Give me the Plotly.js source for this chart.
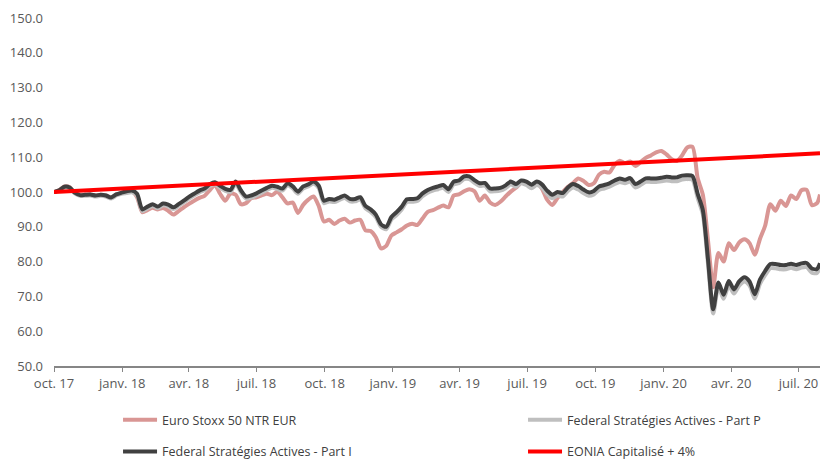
<!DOCTYPE html>
<html>
<head>
<meta charset="utf-8">
<script src="https://cdn.plot.ly/plotly-3.0.1.min.js"></script>
<style>
html,body{margin:0;padding:0;background:#fff;overflow:hidden;}
#chart{width:820px;height:459px;}
</style>
</head>
<body>
<div id="chart"></div>
<script>
const dates = [
'2017-10-01','2017-10-08','2017-10-15','2017-10-22','2017-10-29','2017-11-05','2017-11-12','2017-11-19','2017-11-26','2017-12-03','2017-12-10','2017-12-17','2017-12-24','2017-12-31',
'2018-01-07','2018-01-14','2018-01-21','2018-01-28','2018-02-04','2018-02-11','2018-02-18','2018-02-25','2018-03-04','2018-03-11','2018-03-18','2018-03-25','2018-04-01','2018-04-08','2018-04-15','2018-04-22','2018-04-29','2018-05-06','2018-05-13','2018-05-20','2018-05-27','2018-06-03','2018-06-10','2018-06-17','2018-06-24','2018-07-01','2018-07-08','2018-07-15','2018-07-22','2018-07-29','2018-08-05','2018-08-12','2018-08-19','2018-08-26','2018-09-02','2018-09-09','2018-09-16','2018-09-23','2018-09-30','2018-10-07','2018-10-14','2018-10-21','2018-10-28','2018-11-04','2018-11-11','2018-11-18','2018-11-25','2018-12-02','2018-12-09','2018-12-16','2018-12-23','2018-12-30',
'2019-01-06','2019-01-13','2019-01-20','2019-01-27','2019-02-03','2019-02-10','2019-02-17','2019-02-24','2019-03-03','2019-03-10','2019-03-17','2019-03-24','2019-03-31','2019-04-07','2019-04-14','2019-04-21','2019-04-28','2019-05-05','2019-05-12','2019-05-19','2019-05-26','2019-06-02','2019-06-09','2019-06-16','2019-06-23','2019-06-30','2019-07-07','2019-07-14','2019-07-21','2019-07-28','2019-08-04','2019-08-11','2019-08-18','2019-08-25','2019-09-01','2019-09-08','2019-09-15','2019-09-22','2019-09-29','2019-10-06','2019-10-13','2019-10-20','2019-10-27','2019-11-03','2019-11-10','2019-11-17','2019-11-24','2019-12-01','2019-12-08','2019-12-15','2019-12-22','2019-12-29',
'2020-01-05','2020-01-12','2020-01-19','2020-01-26','2020-02-02','2020-02-09','2020-02-16','2020-02-23','2020-03-01','2020-03-08','2020-03-15','2020-03-22','2020-03-29','2020-04-05','2020-04-12','2020-04-19','2020-04-26','2020-05-03','2020-05-10','2020-05-17','2020-05-24','2020-05-31','2020-06-07','2020-06-14','2020-06-21','2020-06-28','2020-07-05','2020-07-12','2020-07-19','2020-07-26','2020-07-30'
];

const euroStoxx = [
100,100.5,101.6,101.4,99.8,99.1,99.2,99.3,99.0,99.2,
99.0,98.4,99.3,99.7,100.1,100.2,98.5,94.2,94.8,95.5,
95.0,95.4,94.6,93.5,94.5,95.6,96.6,97.5,98.3,98.9,
100.5,102.0,99.5,97.5,99.6,99.2,96.5,96.8,98.2,98.5,
99.0,99.5,99.1,100.1,98.5,96.7,97.0,94.0,96.3,97.8,
98.7,96.0,91.5,92.0,90.8,91.8,92.3,91.2,91.8,92.0,
89.0,88.8,87.0,83.8,84.5,87.5,88.4,89.3,90.4,90.9,
90.5,92.4,94.3,94.8,95.5,96.1,95.6,99.0,99.3,100.2,
100.8,100.2,97.5,99.0,97.0,96.3,97.2,98.7,100.1,101.2,
102.6,102.4,101.6,102.6,101.0,97.8,96.3,98.3,100.0,101.5,
102.6,103.9,103.2,102.0,102.5,105.0,105.8,105.6,107.8,109.0,
108.3,108.8,107.5,108.6,109.8,110.5,111.4,111.8,110.8,109.4,
108.9,110.5,112.8,113.0,104.0,99.2,86.0,72.6,82.5,80.0,
85.3,83.3,85.5,86.4,85.3,82.0,86.5,90.3,96.5,94.6,
97.5,96.0,99.0,98.0,100.5,100.6,96.2,96.8,99.3
];

const partP = [
100.0,100.3,101.3,101.1,99.6,98.9,98.9,99.0,98.7,98.9,
98.7,98.1,99.0,99.5,99.7,99.9,99.0,94.5,95.3,96.0,
95.3,96.2,95.9,95.1,96.0,97.0,98.1,99.0,99.9,100.5,
101.7,102.2,101.2,100.3,100.0,102.4,99.9,98.1,98.4,99.0,
99.8,100.6,101.2,100.9,100.4,101.9,101.0,99.5,101.0,101.6,
102.4,101.1,96.8,97.3,97.1,97.7,98.3,97.3,97.3,97.8,
95.3,94.3,92.8,90.0,89.3,92.1,93.4,95.0,97.1,97.2,
97.4,98.8,99.8,100.4,100.8,101.2,100.0,102.2,102.5,103.7,
103.7,102.6,101.7,101.8,100.2,100.2,100.4,101.1,102.2,101.5,
102.5,102.0,101.1,102.0,101.2,99.4,98.2,99.0,98.7,100.3,
101.3,100.7,99.7,98.9,99.3,100.6,101.0,101.5,102.3,102.9,
102.5,103.0,101.3,102.0,102.9,102.9,102.9,103.1,103.3,103.1,
103.1,103.6,103.7,103.5,98.3,93.6,79.3,65.1,72.8,69.3,
73.2,70.8,73.1,74.3,73.1,69.4,73.6,76.1,78.1,78.1,
77.8,77.8,78.2,77.8,78.3,78.4,76.8,76.7,78.3
];

const partI = [
100,100.5,101.5,101.3,99.8,99.1,99.2,99.3,99.0,99.2,
99.0,98.4,99.3,99.8,100.2,100.4,99.5,95.0,95.8,96.5,
95.8,96.7,96.4,95.6,96.5,97.5,98.6,99.5,100.4,101.0,
102.2,102.8,101.8,100.9,100.6,103.0,100.5,98.7,99.0,99.6,
100.4,101.2,101.8,101.5,101.0,102.5,101.6,100.1,101.6,102.2,
103.0,101.8,97.5,98.0,97.8,98.4,99.0,98.0,98.0,98.5,
96.0,95.0,93.5,90.7,90.0,92.8,94.2,95.8,97.9,98.0,
98.2,99.6,100.6,101.2,101.6,102.0,100.8,103.0,103.3,104.5,
104.5,103.4,102.5,102.6,101.0,101.0,101.2,101.9,103.0,102.3,
103.3,103.0,102.1,103.0,102.2,100.4,99.2,100.0,99.7,101.3,
102.3,101.7,100.7,99.9,100.3,101.6,102.0,102.5,103.3,103.9,
103.5,104.0,102.3,103.0,103.9,103.9,103.9,104.1,104.4,104.2,
104.2,104.7,104.8,104.6,99.5,94.8,80.5,66.3,74.0,70.5,
74.4,72.0,74.3,75.5,74.3,70.6,74.8,77.3,79.3,79.3,
79.0,79.0,79.4,79.0,79.5,79.6,78.0,77.9,79.5
];

const eoniaDates = ['2017-10-01','2018-10-01','2019-10-01','2020-07-30'];
const eonia = [100, 103.9, 107.8, 111.1];

const tickDates = ['2017-10-01','2018-01-01','2018-04-01','2018-07-01','2018-10-01','2019-01-01','2019-04-01','2019-07-01','2019-10-01','2020-01-01','2020-04-01','2020-07-01'];
const tickLabels = ['oct. 17','janv. 18','avr. 18','juil. 18','oct. 18','janv. 19','avr. 19','juil. 19','oct. 19','janv. 20','avr. 20','juil. 20'];

const names = ['Euro Stoxx 50 NTR EUR','Federal Stratégies Actives - Part P','Federal Stratégies Actives - Part I','EONIA Capitalisé + 4%'];

const lineShape = {shape:'spline', smoothing:0.7, width:4};
const traces = [
  {x:dates, y:euroStoxx, name:names[0], type:'scatter', mode:'lines', legend:'legend',
   line:Object.assign({}, lineShape, {color:'#d99694'})},
  {x:dates, y:partP, name:names[1], type:'scatter', mode:'lines', legend:'legend2',
   line:Object.assign({}, lineShape, {color:'#bfbfbf'})},
  {x:dates, y:partI, name:names[2], type:'scatter', mode:'lines', legend:'legend3',
   line:Object.assign({}, lineShape, {color:'#404040'})},
  {x:eoniaDates, y:eonia, name:names[3], type:'scatter', mode:'lines', legend:'legend4',
   line:{color:'#ff0000', width:4}}
];

const font = {family:'"Open Sans", sans-serif', size:13, color:'#595959'};
const legendFont = {family:'"Open Sans", sans-serif', size:12.5, color:'#404040'};
function leg(x, y) {
  return {orientation:'h', x:x, xanchor:'left', y:y, yanchor:'middle',
    font:legendFont, bgcolor:'rgba(0,0,0,0)', itemwidth:34};
}

const layout = {
  width:820, height:459,
  margin:{l:54, r:0, t:18, b:93, autoexpand:false},
  paper_bgcolor:'#ffffff', plot_bgcolor:'#ffffff',
  font:font,
  showlegend:true,
  xaxis:{
    type:'date', range:['2017-10-01','2020-07-30'],
    tickmode:'array', tickvals:tickDates, ticktext:tickLabels,
    showgrid:false, zeroline:false,
    showline:true, linecolor:'#868686', linewidth:1.5,
    ticks:'outside', ticklen:4, tickwidth:1, tickcolor:'#868686',
    tickfont:font, ticklabelstandoff:1, automargin:false
  },
  yaxis:{
    range:[50,150], dtick:10, tick0:50, tickformat:'.1f',
    showgrid:false, zeroline:false, showline:false, ticks:'',
    tickfont:font, ticklabelstandoff:10, automargin:false
  },
  legend:leg(0.0836, -0.1552),
  legend2:leg(0.6123, -0.1552),
  legend3:leg(0.0836, -0.247),
  legend4:leg(0.6123, -0.247)
};

Plotly.newPlot('chart', traces, layout, {staticPlot:true, displayModeBar:false});
</script>
</body>
</html>
